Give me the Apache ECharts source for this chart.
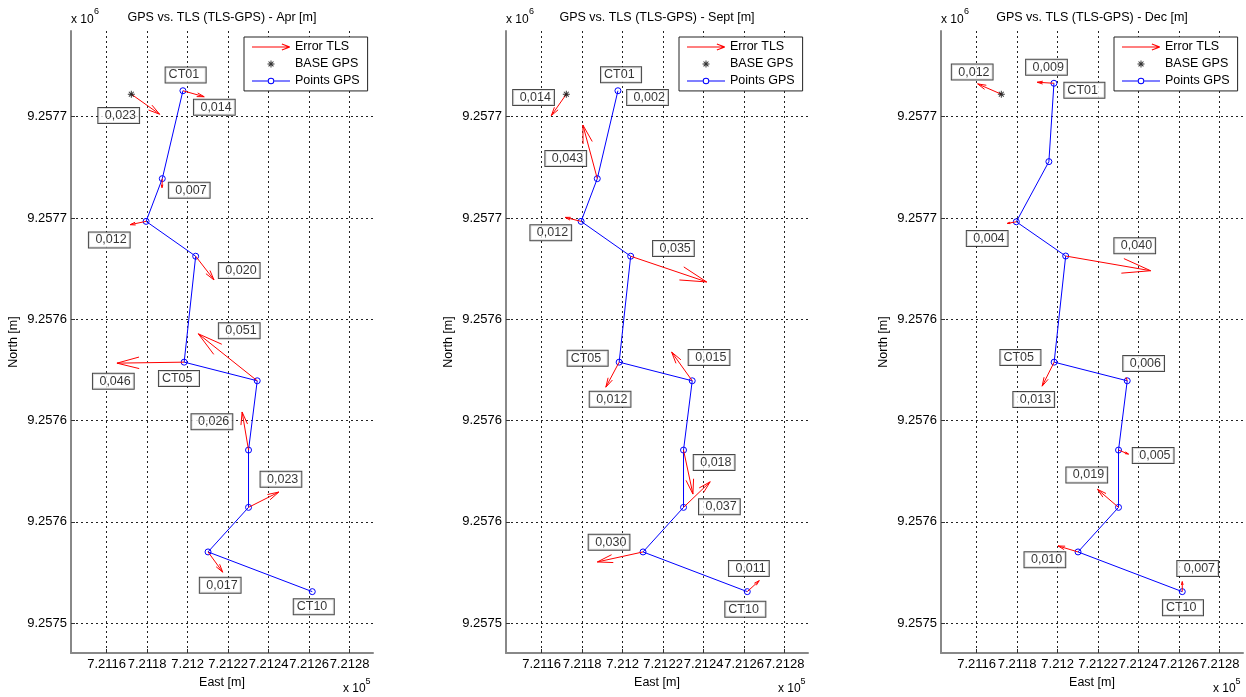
<!DOCTYPE html>
<html><head><meta charset="utf-8">
<script src="https://cdn.jsdelivr.net/npm/echarts@6/dist/echarts.min.js"></script>
<style>html,body{margin:0;padding:0;background:#fff}#c{width:1246px;height:697px}</style>
</head><body><div id="c"></div>
<script>
// ---------------- data ----------------
const months = ['Apr', 'Sept', 'Dec'];
const xTickValues = [721160, 721180, 721200, 721220, 721240, 721260, 721280];
const xTickLabels = ['7.2116', '7.2118', '7.212', '7.2122', '7.2124', '7.2126', '7.2128'];
const yTickValues = [9257500, 9257550, 9257600, 9257650, 9257700, 9257750];
const yTickLabels = ['9.2575', '9.2576', '9.2576', '9.2576', '9.2577', '9.2577'];
const eastRange = [721142.4, 721291.6];
const northRange = [9257485.2, 9257792.3];

const nameLabels = ['CT01', 'CT05', 'CT10'];
const baseGPS = [721172.2, 9257761.1];

// GPS points (CT01 ... CT10)
const aprEast  = [721197.7, 721187.5, 721179.5, 721204.0, 721198.3, 721234.4, 721230.1, 721230.1, 721210.1, 721261.6];
const aprNorth = [9257762.8, 9257719.4, 9257698.3, 9257681.1, 9257628.8, 9257619.6, 9257585.4, 9257557.1, 9257535.1, 9257515.5];
const septEast  = [721197.7, 721187.5, 721179.5, 721204.0, 721198.3, 721234.4, 721230.1, 721230.1, 721210.1, 721261.6];
const septNorth = [9257762.8, 9257719.4, 9257698.3, 9257681.1, 9257628.8, 9257619.6, 9257585.4, 9257557.1, 9257535.1, 9257515.5];
const decEast  = [721198.2, 721195.7, 721179.6, 721204.0, 721198.3, 721234.4, 721230.1, 721230.1, 721210.1, 721261.6];
const decNorth = [9257766.5, 9257727.8, 9257698.1, 9257681.2, 9257628.8, 9257619.6, 9257585.4, 9257557.1, 9257535.1, 9257515.5];

// error magnitudes [m] (TLS-GPS)
const aprErr  = [0.014, 0.007, 0.012, 0.020, 0.046, 0.051, 0.026, 0.023, 0.017, null];
const septErr = [0.002, 0.043, 0.012, 0.035, 0.012, 0.015, 0.018, 0.037, 0.030, 0.011];
const decErr  = [0.009, null, 0.004, 0.040, 0.013, 0.006, 0.005, 0.019, 0.010, 0.007];
const baseErr = [0.023, 0.014, 0.012];

// plotted (exaggerated) error vectors, in map units
const aprVecE  = [10.5, -0.15, -7.9, 9.04, -33.2, -29.1, -3.16, 14.96, 7.26, null];
const aprVecN  = [-2.96, -4.44, -1.63, -11.7, -0.49, 23.2, 18.8, 7.56, -10.0, null];
const septVecE = [null, -7.11, -7.9, 37.53, -6.57, -10.17, 4.64, 13.19, -22.57, 5.93];
const septVecN = [null, 26.47, 1.98, -12.69, -12.35, 14.17, -21.73, 12.64, -4.94, 5.43];
const decVecE  = [-8.25, null, -4.44, 41.98, -5.93, -0.5, 4.94, -10.37, -9.88, 0];
const decVecN  = [0.49, null, -0.79, -7.26, -11.85, 1.5, -1.98, 8.89, 2.96, 4.94];
const baseVecE = [13.98, -7.41, -11.7];
const baseVecN = [-9.88, -10.57, 5.09];

// text anchors for the error labels (map coords)
const aprLabelE  = [721202.9, 721190.5, 721151.0, 721215.2, 721153.0, 721215.2, 721201.7, 721235.8, 721205.8, null];
const aprLabelN  = [9257754.7, 9257713.7, 9257689.1, 9257674.0, 9257619.4, 9257644.3, 9257599.4, 9257571.0, 9257518.7, null];
const septLabelE = [721202.0, 721161.6, 721154.2, 721214.8, 721183.5, 721232.4, 721234.9, 721237.5, 721183.0, 721252.3];
const septLabelN = [9257759.5, 9257729.4, 9257692.7, 9257684.9, 9257610.5, 9257631.1, 9257579.2, 9257557.4, 9257539.9, 9257526.9];
const decLabelE  = [721184.2, null, 721154.9, 721227.8, 721177.9, 721232.2, 721236.9, 721204.1, 721183.4, 721258.9];
const decLabelN  = [9257774.4, null, 9257689.9, 9257686.3, 9257610.3, 9257628.1, 9257582.7, 9257573.1, 9257531.3, 9257526.9];
const baseLabelE = [721155.65, 721145.7, 721147.5];
const baseLabelN = [9257750.6, 9257759.5, 9257772.0];

// text anchors for point names CT01, CT05, CT10
const aprNameE  = [721188.9, 721185.6, 721252.2];
const aprNameN  = [9257770.6, 9257620.7, 9257508.0];
const septNameE = [721189.1, 721172.6, 721250.5];
const septNameN = [9257770.7, 9257630.7, 9257506.8];
const decNameE  = [721203.1, 721171.5, 721251.8];
const decNameN  = [9257763.1, 9257631.1, 9257507.6];

// ---------------- build ----------------
const F = '"Liberation Sans", Arial, Helvetica, sans-serif';
const panels = [
  {east: aprEast, north: aprNorth, err: aprErr, vecE: aprVecE, vecN: aprVecN, labE: aprLabelE, labN: aprLabelN, nmE: aprNameE, nmN: aprNameN},
  {east: septEast, north: septNorth, err: septErr, vecE: septVecE, vecN: septVecN, labE: septLabelE, labN: septLabelN, nmE: septNameE, nmN: septNameN},
  {east: decEast, north: decNorth, err: decErr, vecE: decVecE, vecN: decVecN, labE: decLabelE, labN: decLabelN, nmE: decNameE, nmN: decNameN}
];
const lefts = [71, 506, 941];
const GT = 31, GW = 302, GH = 622;
const fmtErr = v => ' ' + v.toFixed(3).replace('.', ',');

const C = 'M0,0L0.01,0L0,0.01Z M38,14L37.99,14L38,13.99Z ';
const ICON_ARROW = 'path://' + C + 'M0,6.5H38V7.5H0Z M37.82,7.47L29.82,4.47L30.18,3.53L38.18,6.53Z M38.18,7.47L30.18,10.47L29.82,9.53L37.82,6.53Z';
const ICON_STAR = 'path://' + C + 'M18.51,3.5H19.49V10.5H18.51Z M15.5,6.51H22.5V7.49H15.5Z M16.2,4.9L16.9,4.2L21.8,9.1L21.1,9.8Z M21.1,4.2L21.8,4.9L16.9,9.8L16.2,9.1Z';
const ICON_GPS = 'path://' + C + 'M0,6.5H15.7V7.5H0Z M22.3,6.5H38V7.5H22.3Z M22.3,7A3.3,3.3 0 1 1 15.7,7A3.3,3.3 0 1 1 22.3,7Z M21.3,7A2.3,2.3 0 1 0 16.7,7A2.3,2.3 0 1 0 21.3,7Z';
const STAR = 'path://M4.3,0H5.7V10H4.3Z M0,4.3H10V5.7H0Z M1,2L2,1L9,8L8,9Z M8,1L9,2L2,9L1,8Z';

function renderArrow(params, api) {
  const x = api.value(0), y = api.value(1), dx = api.value(2), dy = api.value(3);
  const p0 = api.coord([x, y]);
  const p1 = api.coord([x + dx, y + dy]);
  const ux = p1[0] - p0[0], uy = p1[1] - p0[1];
  const a = 0.33, b = 0.26;
  const h1 = [p1[0] - a * (ux - b * uy), p1[1] - a * (uy + b * ux)];
  const h2 = [p1[0] - a * (ux + b * uy), p1[1] - a * (uy - b * ux)];
  const style = {stroke: '#ff0000', lineWidth: 1, fill: null};
  return {type: 'group', children: [
    {type: 'polyline', shape: {points: [p0, p1]}, style: style},
    {type: 'polyline', shape: {points: [h1, p1, h2]}, style: style}
  ]};
}

const grid = [], xAxis = [], yAxis = [], series = [], legend = [], title = [], graphic = [];
const txt = {color: '#000', fontFamily: F};

panels.forEach((p, i) => {
  const L = lefts[i];
  grid.push({left: L, top: GT, width: GW, height: GH, containLabel: false, outerBoundsMode: 'none'});
  xAxis.push({
    gridIndex: i, type: 'value', min: eastRange[0], max: eastRange[1],
    name: 'East [m]', nameLocation: 'middle', nameGap: 21,
    nameTextStyle: Object.assign({fontSize: 12.5}, txt),
    axisLine: {show: true, onZero: false, lineStyle: {color: '#888', width: 2}},
    axisTick: {show: true, inside: true, length: 4, customValues: xTickValues, lineStyle: {color: '#333'}},
    axisLabel: Object.assign({show: true, customValues: xTickValues, margin: 5, fontSize: 13,
      formatter: v => xTickLabels[xTickValues.indexOf(v)]}, txt),
    splitLine: {show: true, lineStyle: {color: '#222', width: 1, type: [2, 3]}}
  });
  yAxis.push({
    gridIndex: i, type: 'value', min: northRange[0], max: northRange[1],
    name: 'North [m]', nameLocation: 'middle', nameGap: 51, nameRotate: 90,
    nameTextStyle: Object.assign({fontSize: 12.5}, txt),
    axisLine: {show: true, onZero: false, lineStyle: {color: '#888', width: 2}},
    axisTick: {show: true, inside: true, length: 4, customValues: yTickValues, lineStyle: {color: '#333'}},
    axisLabel: Object.assign({show: true, customValues: yTickValues, margin: 4, fontSize: 13,
      formatter: v => yTickLabels[yTickValues.indexOf(v)]}, txt),
    splitLine: {show: true, lineStyle: {color: '#222', width: 1, type: [2, 3]}}
  });

  const gps = p.east.map((e, k) => [e, p.north[k]]);
  const arrows = [[baseGPS[0], baseGPS[1], baseVecE[i], baseVecN[i]]];
  p.vecE.forEach((d, k) => { if (d !== null) arrows.push([p.east[k], p.north[k], d, p.vecN[k]]); });
  const labels = [{value: [baseLabelE[i], baseLabelN[i]], text: fmtErr(baseErr[i])}];
  p.err.forEach((v, k) => { if (v !== null && p.labE[k] !== null) labels.push({value: [p.labE[k], p.labN[k]], text: fmtErr(v)}); });
  nameLabels.forEach((nm, k) => labels.push({value: [p.nmE[k], p.nmN[k]], text: nm + ' '}));

  series.push({
    type: 'line', name: 'Points GPS', xAxisIndex: i, yAxisIndex: i, data: gps,
    symbol: 'circle', symbolSize: 6, z: 3, silent: true,
    lineStyle: {color: '#0000ff', width: 1},
    itemStyle: {color: 'rgba(0,0,0,0)', borderColor: '#0000ff', borderWidth: 1},
    emphasis: {disabled: true}
  });
  series.push({
    type: 'custom', name: 'Error TLS', xAxisIndex: i, yAxisIndex: i, data: arrows,
    encode: {x: 0, y: 1}, renderItem: renderArrow, z: 4, silent: true
  });
  series.push({
    type: 'scatter', name: 'BASE GPS', xAxisIndex: i, yAxisIndex: i, data: [baseGPS],
    symbol: STAR, symbolSize: 7, itemStyle: {color: '#000'}, z: 4, silent: true
  });
  series.push({
    type: 'scatter', name: 'labels', xAxisIndex: i, yAxisIndex: i, data: labels,
    symbolSize: 1, itemStyle: {color: 'rgba(0,0,0,0)'}, z: 6, silent: true,
    label: {show: true, position: 'right', distance: 0, formatter: q => q.data.text,
      color: '#000', fontFamily: F, fontSize: 12.5, lineHeight: 13,
      backgroundColor: '#fff', borderColor: '#1a1a1a', borderWidth: 1, padding: [1, 3, 1, 3]}
  });

  legend.push({
    left: L + 173, top: 37, orient: 'vertical', itemWidth: 38, itemHeight: 14, itemGap: 3,
    padding: [3, 8, 3, 8], borderColor: '#222', borderWidth: 1, backgroundColor: '#fff',
    selectedMode: false, z: 8,
    itemStyle: {borderWidth: 0},
    textStyle: {fontSize: 12.5, color: '#000', fontFamily: F},
    data: [
      {name: 'Error TLS', icon: ICON_ARROW, itemStyle: {color: '#ff0000', borderWidth: 0, borderColor: 'rgba(0,0,0,0)'}},
      {name: 'BASE GPS', icon: ICON_STAR, itemStyle: {color: '#000000', borderWidth: 0, borderColor: 'rgba(0,0,0,0)'}},
      {name: 'Points GPS', icon: ICON_GPS, itemStyle: {color: '#0000ff', borderWidth: 0, borderColor: 'rgba(0,0,0,0)'}}
    ]
  });

  title.push({
    text: 'GPS vs. TLS (TLS-GPS) - ' + months[i] + ' [m]', left: L + 151, top: 11,
    textAlign: 'center', padding: 0,
    textStyle: {fontSize: 12.5, fontWeight: 'normal', color: '#000', fontFamily: F}
  });

  const gs = (x, y, t, fs) => ({type: 'text', x: x, y: y, z: 10,
    style: {text: t, fontSize: fs, fontFamily: F, fill: '#000', verticalAlign: 'middle', align: 'left'}});
  graphic.push(gs(L, 20, 'x 10', 12), gs(L + 23, 12, '6', 9),
               gs(L + 272, 689, 'x 10', 12), gs(L + 294.5, 682, '5', 9));
});

const chart = echarts.init(document.getElementById('c'), null, {renderer: 'canvas'});
chart.setOption({
  animation: false,
  backgroundColor: '#fff',
  title: title, legend: legend, grid: grid, xAxis: xAxis, yAxis: yAxis,
  series: series, graphic: graphic
});
</script></body></html>
